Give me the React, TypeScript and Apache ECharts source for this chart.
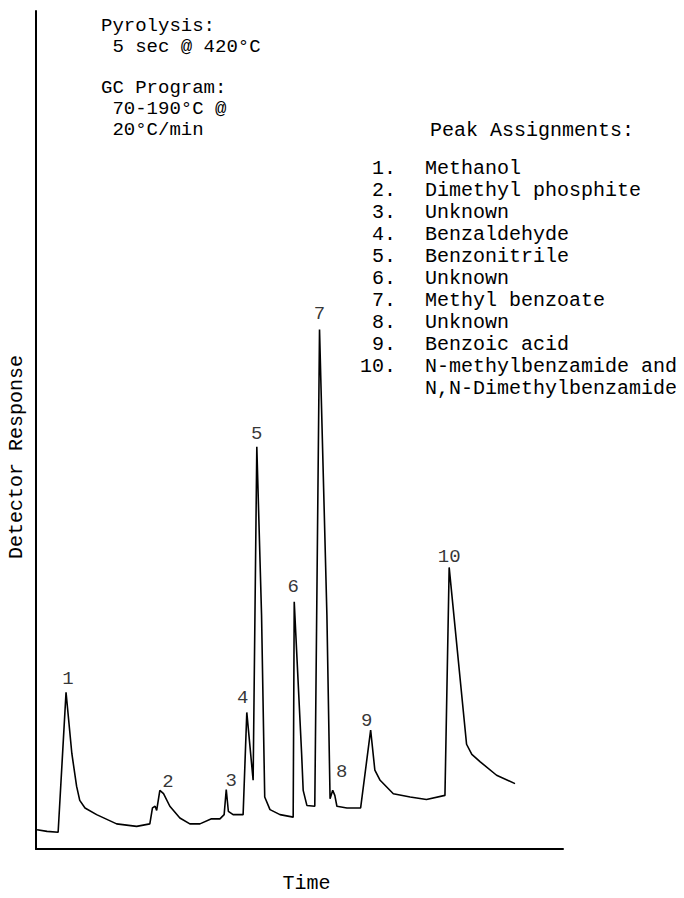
import React, { useEffect, useRef } from "react";
import * as echarts from "echarts";

// Chromatogram trace (time in arbitrary units, detector response in arbitrary units)
const traceTime = [
  0.2, 2.1, 4.2, 5.7, 6.8, 7.7, 8.3, 9.3, 11.5, 15.3, 19.1, 21.6, 22.1, 22.6, 22.9, 23.5, 24.2,
  25.4, 27.3, 29.2, 31.1, 33.3, 34.9, 35.7, 36.1, 36.5, 37.4, 39.3, 40.0, 41.2, 41.9,
  42.8, 43.4, 44.4, 46.3, 48.8, 49.0, 50.4, 50.7, 51.4, 52.9, 53.8, 55.2, 55.8, 56.3,
  56.7, 57.1, 59.0, 61.6, 63.5, 64.3, 65.3, 67.8, 71.0, 74.1, 77.6, 78.4, 81.7, 82.7, 84.3,
  87.4, 90.9,
];
const traceResponse = [
  2.3, 2.1, 2.0, 18.7, 11.4, 7.5, 5.8, 4.9, 4.1, 3.0, 2.7, 3.0, 4.9, 5.1, 4.6, 7.0, 6.6,
  5.1, 3.7, 3.0, 3.0, 3.6, 3.6, 4.1, 7.1, 4.5, 4.1, 4.1, 16.3, 8.2, 48.0,
  27.9, 6.2, 4.7, 4.1, 3.8, 29.5, 11.4, 7.0, 5.2, 5.1, 62.0, 27.9, 6.0, 7.0,
  6.4, 5.1, 4.9, 4.9, 14.2, 9.4, 8.2, 6.6, 6.2, 5.9, 6.4, 33.6, 12.5, 11.3, 10.4,
  8.8, 7.8,
];

// Labelled peaks
const peakNumbers = ["1", "2", "3", "4", "5", "6", "7", "8", "9", "10"];
const peakTime = [5.7, 23.5, 36.1, 40.0, 41.9, 49.0, 53.8, 56.3, 63.5, 78.4];
const peakResponse = [18.7, 7.0, 7.1, 16.3, 48.0, 29.5, 62.0, 7.0, 14.2, 33.6];

// Peak assignments
const assignmentNumbers = ["1.", "2.", "3.", "4.", "5.", "6.", "7.", "8.", "9.", "10."];
const assignmentNames = [
  "Methanol",
  "Dimethyl phosphite",
  "Unknown",
  "Benzaldehyde",
  "Benzonitrile",
  "Unknown",
  "Methyl benzoate",
  "Unknown",
  "Benzoic acid",
  "N-methylbenzamide and",
  "N,N-Dimethylbenzamide",
];

const pyrolysisLines = ["Pyrolysis:", " 5 sec @ 420°C"];
const programLines = ["GC Program:", " 70-190°C @", " 20°C/min"];

// label offsets (style only), px [dx, dy]
const labelOffsets = [
  [2, 2], [8, 7], [5, 7], [-4, 1], [0, 3], [-1, 1], [0, 0], [9, -3], [-4, 6], [0, 5],
];

const FONT = "'Liberation Mono', 'DejaVu Sans Mono', monospace";

export default function App() {
  const ref = useRef<HTMLDivElement>(null);
  useEffect(() => {
    if (!ref.current) return;
    const chart = echarts.init(ref.current, undefined, { renderer: "svg" });
    const condLH = 20.8;
    const listLH = 22;
    const block = (lines: string[], x: number, yCenterFirst: number, lh: number, size: number, align = "left") => ({
      type: "text",
      x,
      y: yCenterFirst - lh / 2,
      style: {
        text: lines.join("\n"),
        font: `${size}px ${FONT}`,
        lineHeight: lh,
        fill: "#000",
        verticalAlign: "top",
        align,
      },
    });
    const graphics: any[] = [
      block(pyrolysisLines, 101, 26, condLH, 19),
      block(programLines, 101, 88, condLH, 19),
      {
        type: "text",
        x: 430,
        y: 130,
        style: { text: "Peak Assignments:", font: `20px ${FONT}`, fill: "#000", verticalAlign: "middle", align: "left" },
      },
      block(assignmentNumbers, 396, 168, listLH, 20, "right"),
      block(assignmentNames, 425, 168, listLH, 20),
      {
        type: "text",
        x: 16,
        y: 457,
        rotation: Math.PI / 2,
        style: { text: "Detector Response", font: `20px ${FONT}`, fill: "#000", verticalAlign: "middle", align: "center" },
      },
    ];

    chart.setOption({
      animation: false,
      backgroundColor: "#fff",
      grid: { left: 36, right: 121, top: 11, bottom: 42 },
      xAxis: {
        type: "value",
        min: 0,
        max: 100,
        name: "Time",
        nameLocation: "middle",
        nameGap: 24,
        nameTextStyle: { fontFamily: FONT, fontSize: 20, color: "#000", padding: [0, 0, 0, 14] },
        axisLine: { show: true, onZero: false, lineStyle: { color: "#000", width: 2 } },
        axisTick: { show: false },
        axisLabel: { show: false },
        splitLine: { show: false },
      },
      yAxis: {
        type: "value",
        min: 0,
        max: 100,
        axisLine: { show: true, lineStyle: { color: "#000", width: 2 } },
        axisTick: { show: false },
        axisLabel: { show: false },
        splitLine: { show: false },
      },
      graphic: graphics,
      series: [
        {
          type: "line",
          data: traceTime.map((t, i) => [t, traceResponse[i]]),
          symbol: "none",
          lineStyle: { color: "#000", width: 1.6 },
          z: 2,
        },
        {
          type: "scatter",
          data: peakTime.map((t, i) => ({
            value: [t, peakResponse[i]],
            label: { offset: labelOffsets[i] },
          })),
          symbolSize: 0,
          silent: true,
          label: {
            show: true,
            position: "top",
            distance: 6,
            fontFamily: FONT,
            fontSize: 19,
            color: "#000",
            formatter: (p: any) => peakNumbers[p.dataIndex],
          },
          z: 3,
        },
      ],
    });
    return () => chart.dispose();
  }, []);
  return <div ref={ref} style={{ width: 684, height: 898, margin: -8 }} />;
}
